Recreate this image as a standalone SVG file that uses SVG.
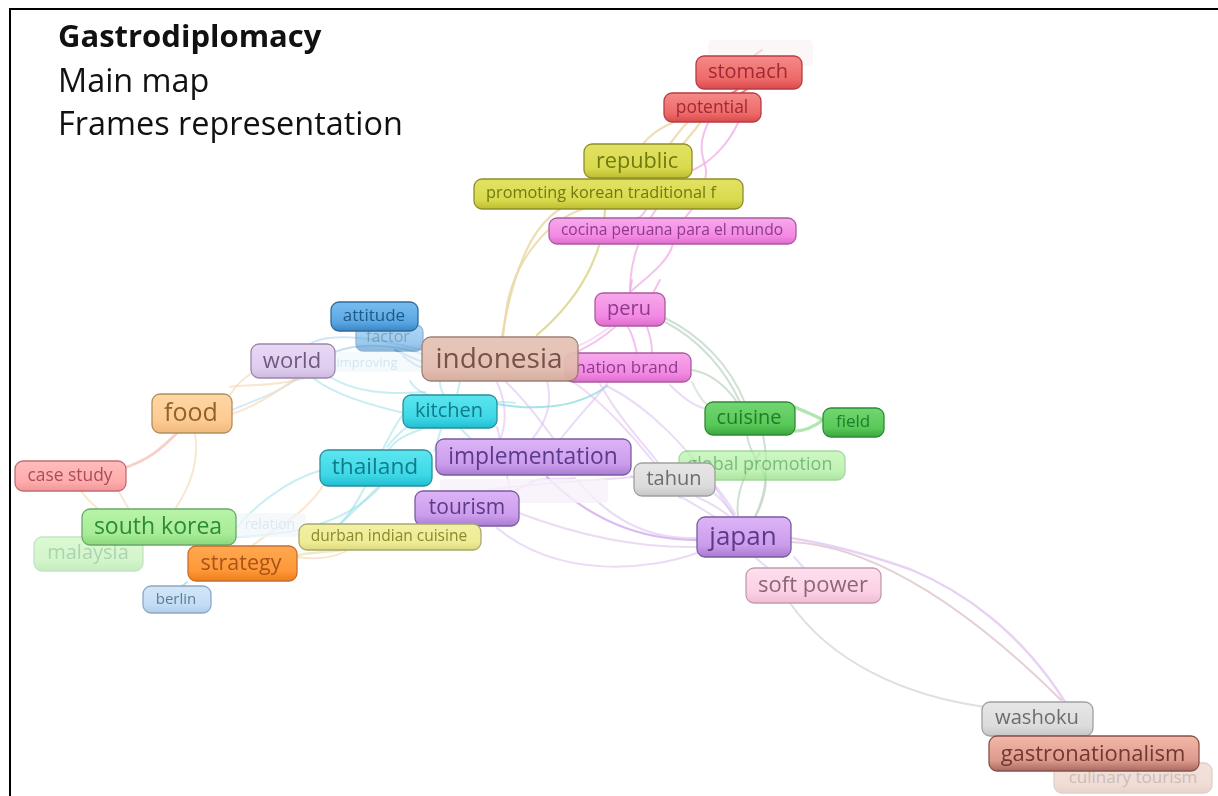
<svg xmlns="http://www.w3.org/2000/svg" width="1218" height="796" viewBox="0 0 1218 796">
<defs>
<filter id="soft" x="-5%" y="-5%" width="110%" height="110%"><feGaussianBlur stdDeviation="0.45"/></filter>
<linearGradient id="red" x1="0" y1="0" x2="0" y2="1"><stop offset="0" stop-color="#f48a88"/><stop offset=".7" stop-color="#ee6a68"/><stop offset="1" stop-color="#d94a4c"/></linearGradient>
<linearGradient id="yel" x1="0" y1="0" x2="0" y2="1"><stop offset="0" stop-color="#e2e263"/><stop offset=".7" stop-color="#dada4e"/><stop offset="1" stop-color="#bdbd32"/></linearGradient>
<linearGradient id="pink" x1="0" y1="0" x2="0" y2="1"><stop offset="0" stop-color="#f8a8ec"/><stop offset=".7" stop-color="#f389e3"/><stop offset="1" stop-color="#dd6ccd"/></linearGradient>
<linearGradient id="blue" x1="0" y1="0" x2="0" y2="1"><stop offset="0" stop-color="#78bdf0"/><stop offset=".7" stop-color="#5aa6e2"/><stop offset="1" stop-color="#3a86c4"/></linearGradient>
<linearGradient id="lav" x1="0" y1="0" x2="0" y2="1"><stop offset="0" stop-color="#e8d8f4"/><stop offset=".7" stop-color="#dfcdee"/><stop offset="1" stop-color="#cdb9de"/></linearGradient>
<linearGradient id="tan" x1="0" y1="0" x2="0" y2="1"><stop offset="0" stop-color="#e6c4b8"/><stop offset=".7" stop-color="#e2bcae"/><stop offset="1" stop-color="#d4aa9c"/></linearGradient>
<linearGradient id="cyan" x1="0" y1="0" x2="0" y2="1"><stop offset="0" stop-color="#5ce6f0"/><stop offset=".7" stop-color="#3cd8e6"/><stop offset="1" stop-color="#22bcd0"/></linearGradient>
<linearGradient id="org" x1="0" y1="0" x2="0" y2="1"><stop offset="0" stop-color="#ffd6a4"/><stop offset=".7" stop-color="#fcca92"/><stop offset="1" stop-color="#f0b87c"/></linearGradient>
<linearGradient id="grn" x1="0" y1="0" x2="0" y2="1"><stop offset="0" stop-color="#72d672"/><stop offset=".7" stop-color="#58c858"/><stop offset="1" stop-color="#3ca63c"/></linearGradient>
<linearGradient id="lgrn" x1="0" y1="0" x2="0" y2="1"><stop offset="0" stop-color="#b8f4a8"/><stop offset=".7" stop-color="#a6ec96"/><stop offset="1" stop-color="#8ad87c"/></linearGradient>
<linearGradient id="pur" x1="0" y1="0" x2="0" y2="1"><stop offset="0" stop-color="#dcb4f6"/><stop offset=".7" stop-color="#cc9cec"/><stop offset="1" stop-color="#a87cd0"/></linearGradient>
<linearGradient id="gry" x1="0" y1="0" x2="0" y2="1"><stop offset="0" stop-color="#e6e6e6"/><stop offset=".7" stop-color="#dcdcdc"/><stop offset="1" stop-color="#c6c6c6"/></linearGradient>
<linearGradient id="sal" x1="0" y1="0" x2="0" y2="1"><stop offset="0" stop-color="#ffbcbc"/><stop offset=".7" stop-color="#ffabab"/><stop offset="1" stop-color="#f09698"/></linearGradient>
<linearGradient id="ora" x1="0" y1="0" x2="0" y2="1"><stop offset="0" stop-color="#ffa850"/><stop offset=".7" stop-color="#ff9838"/><stop offset="1" stop-color="#ee7c1c"/></linearGradient>
<linearGradient id="khk" x1="0" y1="0" x2="0" y2="1"><stop offset="0" stop-color="#f2f0a4"/><stop offset=".7" stop-color="#eeec94"/><stop offset="1" stop-color="#dcd980"/></linearGradient>
<linearGradient id="sky" x1="0" y1="0" x2="0" y2="1"><stop offset="0" stop-color="#d2e6f8"/><stop offset=".7" stop-color="#c4dcf4"/><stop offset="1" stop-color="#aecce8"/></linearGradient>
<linearGradient id="rose" x1="0" y1="0" x2="0" y2="1"><stop offset="0" stop-color="#fde0ee"/><stop offset=".7" stop-color="#fbd0e4"/><stop offset="1" stop-color="#f0bcd4"/></linearGradient>
<linearGradient id="brn" x1="0" y1="0" x2="0" y2="1"><stop offset="0" stop-color="#f2b8a8"/><stop offset=".7" stop-color="#dd9a8c"/><stop offset="1" stop-color="#a86a60"/></linearGradient>
</defs>
<style>
text{font-family:"Open Sans","Noto Sans","Liberation Sans",sans-serif;}
.n rect{stroke-width:1.3;}
.n text{text-anchor:middle;dominant-baseline:central;}
.t{font-size:32.4px;fill:#111;}
#edges{filter:url(#soft);}
#edges path{fill:none;stroke-linecap:round;}
.p{stroke:#d8b8ee;stroke-width:2;opacity:.5;}
.pd{stroke:#cfa6ec;stroke-width:2.4;opacity:.75;}
.pk{stroke:#f0a6e6;stroke-width:2;opacity:.7;}
.c{stroke:#8fdde6;stroke-width:2;opacity:.5;}
.o{stroke:#f8d8b4;stroke-width:2;opacity:.65;}
.ta{stroke:#ead8a8;stroke-width:2.2;opacity:.85;}
.y{stroke:#dcd68a;stroke-width:2.2;opacity:.85;}
.g{stroke:#a8dcaa;stroke-width:2;opacity:.7;}
.gs{stroke:#c4d8c8;stroke-width:2;opacity:.8;}
.gy{stroke:#dcd4d4;stroke-width:2;opacity:.8;}
.b{stroke:#9cc8ea;stroke-width:2;opacity:.6;}
.r{stroke:#f6c4bc;stroke-width:3;opacity:.8;}
.rd{stroke:#ee6a6e;stroke-width:2;opacity:.85;}
.f{stroke:#8fdb90;stroke-width:3.4;opacity:.7;}
.wa{stroke:#d9bcc4;stroke-width:2;opacity:.7;}
</style>
<rect width="1218" height="796" fill="#fff"/>
<path d="M10 796V9H1218" fill="none" stroke="#000" stroke-width="2"/>
<g id="edges">
<path class="o" d="M230 395C236 385 244 378 252 373"/>
<path class="o" d="M230 387C240 384 270 388 305 378"/>
<path class="b" d="M232 410C250 402 275 395 300 377" style="opacity:.4"/>
<path class="o" d="M232 414C250 408 275 395 295 378"/>
<path class="r" d="M177 433C160 450 148 460 124 468"/>
<path class="o" d="M195 433C200 465 188 490 175 509"/>
<path class="o" d="M80 490C86 498 92 504 98 509"/>
<path class="o" d="M118 490C122 497 125 503 129 509"/>
<path class="c" d="M235 530C250 510 285 480 322 470"/>
<path class="c" d="M235 537C290 535 345 525 380 487"/>
<path class="o" d="M252 546C270 530 300 520 323 486"/>
<path class="o" d="M297 557C315 560 335 558 348 550"/>
<path class="y" d="M297 556C305 552 330 552 345 550" style="opacity:.5"/>
<path class="c" d="M378 487C365 500 350 515 340 524"/>
<path class="c" d="M365 487C358 500 350 515 340 524"/>
<path class="c" d="M382 451C390 435 397 422 404 413"/>
<path class="c" d="M388 451C395 440 405 435 422 429"/>
<path class="c" d="M387 447C395 437 400 432 407 427"/>
<path class="c" d="M434 451C437 445 438 438 441 429"/>
<path class="c" d="M460 428C464 432 468 436 472 440"/>
<path class="b" d="M310 344C320 337 345 335 375 340C395 343 410 347 422 350" style="opacity:.45"/>
<path class="c" d="M313 378C335 395 370 405 404 413"/>
<path class="c" d="M330 377C355 392 385 395 425 392"/>
<path class="b" d="M335 352C360 342 400 345 424 355"/>
<path class="b" d="M403 356C410 362 416 366 423 368" style="stroke:#7cb2e0;opacity:.8"/>
<path class="b" d="M395 350C400 352 412 358 423 362" style="stroke:#7cb2e0;opacity:.8"/>
<path class="c" d="M410 381C414 388 420 392 428 395"/>
<path class="c" d="M440 382C440 388 442 392 444 395"/>
<path class="c" d="M460 382C458 388 458 392 457 395"/>
<path class="c" d="M497 404C530 410 575 410 607 386" style="opacity:.8"/>
<path class="c" d="M497 402C505 402 510 402 515 403"/>
<path class="p" d="M547 381C552 400 548 420 533 438"/>
<path class="p" d="M506 382C525 400 540 420 553 438"/>
<path class="p" d="M497 382C505 400 508 420 500 440"/>
<path class="p" d="M497 427C502 445 505 470 510 490"/>
<path class="p" d="M607 384C590 405 575 420 560 440"/>
<path class="p" d="M607 386C645 405 690 445 733 515"/>
<path class="p" d="M573 382C600 400 640 440 680 498"/>
<path class="p" d="M600 384C620 420 645 445 660 465"/>
<path class="pd" d="M547 477C590 520 640 540 697 540"/>
<path class="p" d="M577 480C610 520 650 540 697 538"/>
<path class="p" d="M497 528C560 580 650 570 697 553"/>
<path class="p" d="M519 513C590 540 650 548 697 547"/>
<path class="p" d="M488 490C530 483 590 481 633 477"/>
<path class="p" d="M517 490C525 486 530 483 537 480"/>
<path class="p" d="M530 482C540 477 560 480 575 478"/>
<path class="p" d="M631 476C650 480 680 495 715 517"/>
<path class="p" d="M714 493C722 500 729 508 735 517"/>
<path class="p" d="M713 483C722 494 730 505 735 514"/>
<path class="p" d="M697 497C710 503 722 510 730 517"/>
<path class="pd" d="M791 538C835 545 870 555 912 570C960 590 1020 630 1065 702" style="opacity:.5"/>
<path class="wa" d="M791 542C860 545 950 590 1061 700"/>
<path class="p" d="M755 557C760 562 764 565 768 568"/>
<path class="p" d="M794 557C798 561 800 564 804 568"/>
<path class="gy" d="M790 603C830 660 900 695 985 707"/>
<path class="gs" d="M665 322C700 340 725 370 740 402"/>
<path class="gs" d="M665 318C700 335 730 365 745 403"/>
<path class="gs" d="M692 370C710 373 725 385 737 402"/>
<path class="gs" d="M692 382C698 395 702 400 706 404" style="opacity:.6"/>
<path class="p" d="M670 385C680 395 692 405 703 408"/>
<path class="gs" d="M747 435C750 460 770 470 765 490C762 505 758 512 755 517"/>
<path class="gs" d="M763 435C768 460 768 490 755 517"/>
<path class="gs" d="M760 453C745 470 735 495 738 517"/>
<path class="f" d="M795 407C805 412 815 415 823 420"/>
<path class="f" d="M795 431C805 431 815 426 823 420"/>
<path class="pk" d="M628 327C633 335 635 345 637 353"/>
<path class="pk" d="M647 327C650 335 652 345 652 353"/>
<path class="pk" d="M615 327C600 340 590 345 577 352"/>
<path class="pk" d="M610 327C598 335 590 342 577 346" style="opacity:.4"/>
<path class="pk" d="M632 280C631 285 630 290 630 293"/>
<path class="pk" d="M660 280C657 285 655 290 653 293"/>
<path class="pk" d="M657 208C645 225 630 255 630 290"/>
<path class="pk" d="M673 243C670 260 650 275 630 292"/>
<path class="pk" d="M647 208C643 215 640 218 637 218"/>
<path class="pk" d="M693 208C690 212 687 215 685 218"/>
<path class="pk" d="M708 123C700 140 700 150 705 165C707 172 706 176 705 179"/>
<path class="pk" d="M738 123C730 140 715 160 693 170"/>
<path class="ta" d="M672 123C660 128 650 135 643 144"/>
<path class="ta" d="M687 123C680 130 675 137 670 144"/>
<path class="ta" d="M700 123C695 130 688 138 683 144"/>
<path class="rd" d="M762 50C757 53 755 55 753 57"/>
<path class="rd" d="M747 89C745 91 743 92 741 93"/>
<path class="rd" d="M738 89C736 91 734 92 732 93"/>
<path class="ta" d="M560 209C535 225 515 260 502 337"/>
<path class="ta" d="M583 209C555 218 520 250 508 300C506 312 504 325 503 337"/>
<path class="y" d="M605 209C605 240 590 290 537 335"/>
<path class="b" d="M187 582C185 584 182 586 180 587"/>
</g>
<g id="faint">
<rect x="708" y="40" width="105" height="26" rx="5" fill="#fbf3f3" opacity=".7"/>
<rect x="336" y="352" width="95" height="20" rx="3" fill="#f1f8fb" opacity=".7"/>
<text x="367" y="362" font-size="13" fill="#d3e6f0" text-anchor="middle" dominant-baseline="central">improving</text>
<rect x="440" y="479" width="168" height="24" rx="3" fill="#f7f0fb" opacity=".8"/>
<rect x="236" y="513" width="70" height="24" rx="3" fill="#f1f7fb" opacity=".7"/>
<text x="270" y="523" font-size="14" fill="#dbe9f1" text-anchor="middle" dominant-baseline="central">relation</text>
</g>
<g id="nodes">
<g class="n" id="n-global-promotion" opacity=".7"><rect x="679" y="451" width="166" height="29" rx="8" fill="url(#lgrn)" stroke="#7fc57a"/><text x="760" y="463" font-size="18" fill="#3f9e45">global promotion</text></g>
<g class="n" id="n-factor" opacity=".6"><rect x="356" y="325" width="67" height="26" rx="7" fill="url(#blue)" stroke="#4d86b5"/><text x="388" y="336" font-size="16" fill="#2a6690">factor</text></g>
<g class="n" id="n-stomach"><rect x="696" y="56" width="106" height="33" rx="8" fill="url(#red)" stroke="#b83c44"/><text x="748" y="70" font-size="20" fill="#a02a34">stomach</text></g>
<g class="n" id="n-potential"><rect x="664" y="93" width="97" height="29" rx="8" fill="url(#red)" stroke="#b83c44"/><text x="712" y="106" font-size="17.4" fill="#a02a34">potential</text></g>
<g class="n" id="n-republic"><rect x="584" y="144" width="108" height="34" rx="8" fill="url(#yel)" stroke="#8e8e2a"/><text x="637" y="159" font-size="21.7" fill="#6f7a10">republic</text></g>
<g class="n" id="n-promoting"><rect x="474" y="179" width="269" height="30" rx="8" fill="url(#yel)" stroke="#8e8e2a"/><text x="601" y="192" font-size="16.3" fill="#6f7a10">promoting korean traditional f</text></g>
<g class="n" id="n-cocina"><rect x="549" y="218" width="247" height="26" rx="8" fill="url(#pink)" stroke="#a85c9c"/><text x="672" y="229" font-size="15.6" fill="#8e3a8e">cocina peruana para el mundo</text></g>
<g class="n" id="n-peru"><rect x="595" y="293" width="70" height="33" rx="8" fill="url(#pink)" stroke="#a85c9c"/><text x="629" y="307" font-size="20" fill="#8e3a8e">peru</text></g>
<g class="n" id="n-nation-brand"><rect x="565" y="353" width="126" height="29" rx="8" fill="url(#pink)" stroke="#a85c9c"/><text x="627" y="366" font-size="17" fill="#8e3a8e">nation brand</text></g>
<g class="n" id="n-attitude"><rect x="331" y="302" width="87" height="29" rx="8" fill="url(#blue)" stroke="#2f6a9a"/><text x="374" y="314" font-size="17" fill="#1c5a88">attitude</text></g>
<g class="n" id="n-world"><rect x="251" y="344" width="84" height="34" rx="8" fill="url(#lav)" stroke="#9a86ac"/><text x="292" y="359" font-size="22" fill="#6e5a80">world</text></g>
<g class="n" id="n-indonesia"><rect x="422" y="337" width="156" height="44" rx="9" fill="url(#tan)" stroke="#9a7a70" opacity=".95"/><text x="499" y="357" font-size="28" fill="#7a5148">indonesia</text></g>
<g class="n" id="n-kitchen"><rect x="403" y="395" width="94" height="33" rx="8" fill="url(#cyan)" stroke="#2a8e9c"/><text x="449" y="409" font-size="20" fill="#127a8a">kitchen</text></g>
<g class="n" id="n-food"><rect x="152" y="394" width="80" height="39" rx="8" fill="url(#org)" stroke="#b0905c"/><text x="191" y="411" font-size="25" fill="#8e6428">food</text></g>
<g class="n" id="n-cuisine"><rect x="705" y="402" width="90" height="33" rx="8" fill="url(#grn)" stroke="#2e8a34"/><text x="749" y="416" font-size="20" fill="#1e7e26">cuisine</text></g>
<g class="n" id="n-field"><rect x="823" y="408" width="61" height="29" rx="8" fill="url(#grn)" stroke="#2e8a34"/><text x="853" y="420" font-size="17" fill="#1e7e26">field</text></g>
<g class="n" id="n-thailand"><rect x="320" y="450" width="112" height="36" rx="8" fill="url(#cyan)" stroke="#2a8e9c"/><text x="375" y="465" font-size="22.7" fill="#127a8a">thailand</text></g>
<g class="n" id="n-implementation"><rect x="436" y="439" width="195" height="36" rx="8" fill="url(#pur)" stroke="#7a5ca0"/><text x="533" y="455" font-size="22.8" fill="#5a3a8a">implementation</text></g>
<g class="n" id="n-tahun"><rect x="634" y="463" width="81" height="33" rx="8" fill="url(#gry)" stroke="#a0a0a0"/><text x="674" y="477" font-size="20" fill="#6c6c6c">tahun</text></g>
<g class="n" id="n-case-study"><rect x="15" y="461" width="111" height="30" rx="8" fill="url(#sal)" stroke="#c06c74"/><text x="70" y="474" font-size="17.4" fill="#a84e58">case study</text></g>
<g class="n" id="n-tourism"><rect x="415" y="491" width="104" height="35" rx="8" fill="url(#pur)" stroke="#7a5ca0"/><text x="467" y="506" font-size="21" fill="#5a3a8a">tourism</text></g>
<g class="n" id="n-malaysia" opacity=".5"><rect x="34" y="537" width="109" height="34" rx="8" fill="url(#lgrn)" stroke="#8ac88a"/><text x="88" y="551" font-size="20" fill="#5aa860">malaysia</text></g>
<g class="n" id="n-south-korea"><rect x="82" y="509" width="154" height="36" rx="8" fill="url(#lgrn)" stroke="#6aa86a"/><text x="158" y="525" font-size="23" fill="#2e8a34">south korea</text></g>
<g class="n" id="n-durban"><rect x="299" y="524" width="182" height="26" rx="8" fill="url(#khk)" stroke="#a8a870"/><text x="389" y="535" font-size="15.5" fill="#888a2c">durban indian cuisine</text></g>
<g class="n" id="n-japan"><rect x="697" y="517" width="94" height="40" rx="8" fill="url(#pur)" stroke="#7a5ca0"/><text x="743" y="535" font-size="26" fill="#5a3a8a">japan</text></g>
<g class="n" id="n-strategy"><rect x="188" y="546" width="109" height="35" rx="8" fill="url(#ora)" stroke="#c47030"/><text x="241" y="561" font-size="21.5" fill="#a8541a">strategy</text></g>
<g class="n" id="n-soft-power"><rect x="746" y="568" width="135" height="35" rx="8" fill="url(#rose)" stroke="#c49aae"/><text x="813" y="583" font-size="22" fill="#8e6478">soft power</text></g>
<g class="n" id="n-berlin"><rect x="143" y="586" width="68" height="27" rx="8" fill="url(#sky)" stroke="#8ca8c4"/><text x="176" y="598" font-size="15" fill="#5c7c9c">berlin</text></g>
<g class="n" id="n-culinary-tourism" opacity=".5"><rect x="1054" y="763" width="158" height="30" rx="8" fill="url(#tan)" stroke="#c0a098"/><text x="1133" y="776" font-size="17" fill="#9a7a70">culinary tourism</text></g>
<g class="n" id="n-washoku"><rect x="982" y="702" width="111" height="34" rx="8" fill="url(#gry)" stroke="#a0a0a0"/><text x="1037" y="716" font-size="20.2" fill="#6c6c6c">washoku</text></g>
<g class="n" id="n-gastronationalism"><rect x="989" y="736" width="210" height="35" rx="8" fill="url(#brn)" stroke="#8a5048"/><text x="1093" y="752" font-size="22" fill="#703830">gastronationalism</text></g>
</g>
<g id="title">
<text class="t" x="58" y="47" font-weight="700" style="font-size:31px">Gastrodiplomacy</text>
<text class="t" x="58" y="92">Main map</text>
<text class="t" x="58" y="135">Frames representation</text>
</g>
</svg>
